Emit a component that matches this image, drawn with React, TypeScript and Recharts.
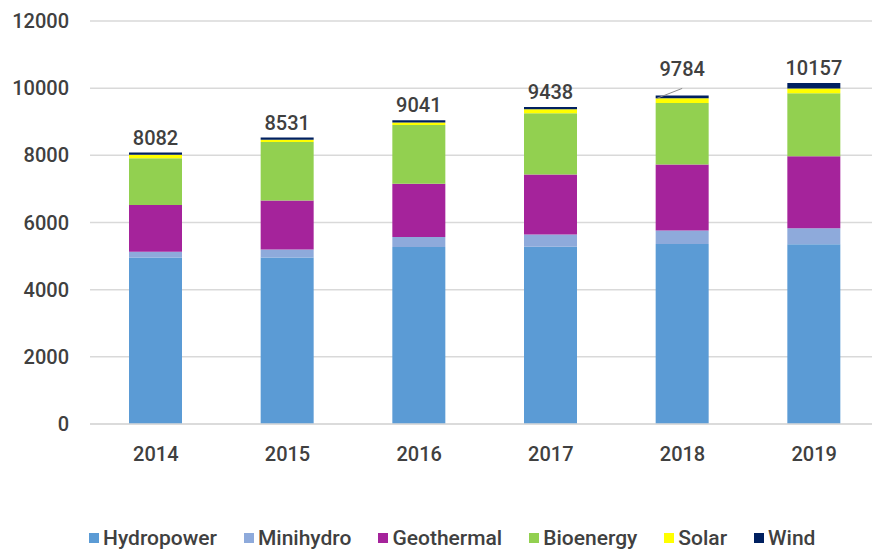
import { Bar, BarChart, CartesianGrid, LabelList, Legend, XAxis, YAxis } from "recharts"

const years = ["2014", "2015", "2016", "2017", "2018", "2019"]
const hydropower = [4960, 4960, 5270, 5280, 5360, 5350]
const minihydro = [170, 238, 298, 360, 400, 480]
const geothermal = [1390, 1458, 1587, 1790, 1970, 2140]
const bioenergy = [1390, 1740, 1746, 1820, 1830, 1880]
const solar = [110, 65, 80, 120, 140, 137]
const wind = [62, 70, 60, 68, 84, 170]
const totals = [8082, 8531, 9041, 9438, 9784, 10157]
const yTicks = [0, 2000, 4000, 6000, 8000, 10000, 12000]

const data = years.map((year, i) => ({
  year,
  hydropower: hydropower[i],
  minihydro: minihydro[i],
  geothermal: geothermal[i],
  bioenergy: bioenergy[i],
  solar: solar[i],
  wind: wind[i],
  total: totals[i],
}))

const series = [
  { key: "hydropower", name: "Hydropower", color: "#5b9bd5" },
  { key: "minihydro", name: "Minihydro", color: "#8eaadb" },
  { key: "geothermal", name: "Geothermal", color: "#a5239b" },
  { key: "bioenergy", name: "Bioenergy", color: "#92d050" },
  { key: "solar", name: "Solar", color: "#ffff00" },
  { key: "wind", name: "Wind", color: "#002060" },
]

// the 2018 total sits higher with a leader line, as in the source
const liftedYear = "2018"
const textColor = "#404040"
const font = "Roboto, 'Liberation Sans', Arial, sans-serif"
const tickStyle = { fontSize: 20, fill: textColor, fontFamily: font, fontWeight: 500 }

function TotalLabel(props: any) {
  const { x, y, width, index } = props
  const cx = x + width / 2
  const row = data[index]
  const textProps = { textAnchor: "middle" as const, fontSize: 20, fill: textColor, fontFamily: font, fontWeight: 500 }
  if (row.year === liftedYear) {
    return (
      <g>
        <line x1={x + 1} y1={y + 3} x2={cx} y2={y - 7} stroke="#8c8c8c" strokeWidth={1} />
        <text x={cx} y={y - 19} {...textProps}>
          {row.total}
        </text>
      </g>
    )
  }
  return (
    <text x={cx} y={y - 8} {...textProps}>
      {row.total}
    </text>
  )
}

function renderLegend() {
  return (
    <div
      style={{
        height: 34,
        paddingTop: 17,
        paddingLeft: 89,
        boxSizing: "border-box",
        display: "flex",
        gap: 27,
        fontFamily: font,
        fontWeight: 500,
        fontSize: 21,
        lineHeight: "20px",
        color: textColor,
      }}
    >
      {series.map((s) => (
        <div key={s.key} style={{ display: "flex", alignItems: "center" }}>
          <span style={{ width: 10, height: 10, background: s.color, marginRight: 4, display: "inline-block" }} />
          <span>{s.name}</span>
        </div>
      ))}
    </div>
  )
}

export default function App() {
  return (
    <div style={{ position: "absolute", left: 0, top: 0, width: 872, height: 552, overflow: "hidden", background: "#fff" }}>
      <BarChart width={881} height={552} data={data} margin={{ top: 21, right: 1, bottom: 6, left: 0 }}>
        <CartesianGrid vertical={false} stroke="#d9d9d9" strokeWidth={1.5} />
        <XAxis
          dataKey="year"
          height={88}
          axisLine={{ stroke: "#d9d9d9", strokeWidth: 1.5 }}
          tickLine={false}
          tickSize={0}
          tickMargin={23}
          tick={tickStyle}
        />
        <YAxis
          width={90}
          domain={[0, 12000]}
          ticks={yTicks}
          axisLine={false}
          tickLine={false}
          tickSize={0}
          tickMargin={21}
          tick={tickStyle}
        />
        <Legend verticalAlign="bottom" content={renderLegend} wrapperStyle={{ left: 0, width: 872 }} />
        {series.map((s) => (
          <Bar key={s.key} dataKey={s.key} name={s.name} stackId="a" fill={s.color} barSize={53} isAnimationActive={false}>
            {s.key === "wind" ? <LabelList dataKey="total" content={TotalLabel} /> : null}
          </Bar>
        ))}
      </BarChart>
    </div>
  )
}
